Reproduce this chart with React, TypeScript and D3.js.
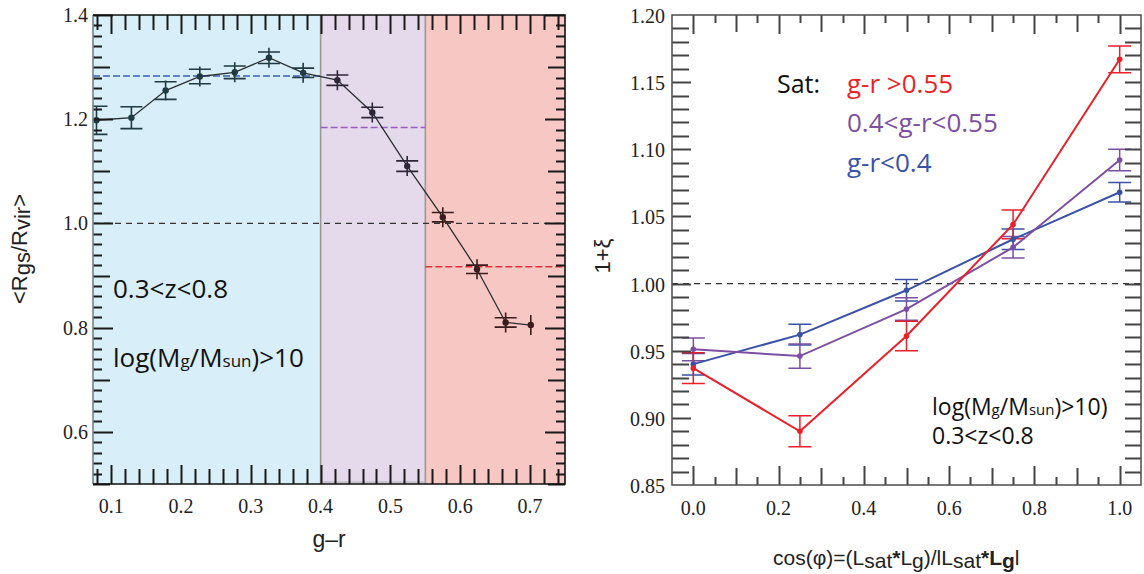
import React from 'react';
import * as d3 from 'd3';

// ---------- Left panel data ----------
const grBins = [0.079, 0.129, 0.178, 0.227, 0.277, 0.326, 0.375, 0.424, 0.474, 0.524, 0.575, 0.624, 0.665, 0.701];
const ratioMean = [1.198, 1.203, 1.255, 1.282, 1.290, 1.318, 1.289, 1.275, 1.213, 1.110, 1.012, 0.912, 0.810, 0.805];
const ratioErr = [0.027, 0.021, 0.017, 0.014, 0.012, 0.011, 0.009, 0.010, 0.010, 0.010, 0.009, 0.008, 0.009, 0.019];
const ratioCapped = [true, true, true, true, true, true, true, true, true, true, true, true, true, false];
const regionEdges = [0.074, 0.4, 0.55, 0.75];
const regionFill = ['#d8eef8', '#e5daec', '#f7c7c4'];
const regionInk = ['#1f3a40', '#2e2638', '#3a1c1c'];
const regionMean = [1.283, 1.184, 0.917];
const regionLine = ['#3a5fb5', '#9a5cc0', '#e0303a'];
const leftXTicks = [0.1, 0.2, 0.3, 0.4, 0.5, 0.6, 0.7];
const leftYTicks = [0.6, 0.8, 1.0, 1.2, 1.4];

// ---------- Right panel data ----------
const cosPhi = [0, 0.25, 0.5, 0.75, 1.0];
const satRed = [0.937, 0.890, 0.961, 1.044, 1.167];
const satRedErr = [0.0115, 0.0115, 0.011, 0.0107, 0.010];
const satPurple = [0.951, 0.946, 0.981, 1.027, 1.092];
const satPurpleErr = [0.0085, 0.009, 0.0084, 0.008, 0.008];
const satBlue = [0.940, 0.962, 0.995, 1.033, 1.068];
const satBlueErr = [0.008, 0.0077, 0.008, 0.0077, 0.0073];
const rightXTicks = [0.0, 0.2, 0.4, 0.6, 0.8, 1.0];
const rightYTicks = [0.85, 0.90, 0.95, 1.00, 1.05, 1.10, 1.15, 1.20];

const SERIF = '"Liberation Serif", "Times New Roman", serif';
const SANS = '"Liberation Sans", Arial, sans-serif';
const OPEN = '"Open Sans", "Noto Sans", sans-serif';

function isMult(v: number, step: number) {
  const q = v / step;
  return Math.abs(q - Math.round(q)) < 1e-6;
}

function LeftPanel() {
  const L = 93, R = 565, T = 15, B = 484;
  const x = d3.scaleLinear().domain([0.074, 0.75]).range([L, R]);
  const y = d3.scaleLinear().domain([0.5, 1.4]).range([B, T]);
  const xt = d3.range(4, 38).map((i) => i * 0.02);
  const yt = d3.range(25, 71).map((i) => i * 0.02);
  const line = d3.line<number>().x((_, i) => x(grBins[i])).y((d) => y(d));
  const fmt = d3.format('.1f');
  const inkFor = (g: number) => (g < regionEdges[1] ? regionInk[0] : g < regionEdges[2] ? regionInk[1] : regionInk[2]);

  let dTicks = '';
  xt.forEach((v) => {
    const len = isMult(v, 0.1) ? 19 : 15;
    const px = Math.round(x(v)) + 0.5;
    dTicks += `M${px},${B}V${B - len}M${px},${T}V${T + len}`;
  });
  yt.forEach((v) => {
    const len = isMult(v, 0.2) ? 20 : isMult(v, 0.1) ? 17 : 9;
    const py = Math.round(y(v)) + 0.5;
    dTicks += `M${L},${py}H${L + len}M${R},${py}H${R - len}`;
  });

  return (
    <g>
      {regionFill.map((c, i) => (
        <rect key={'r' + i} x={x(regionEdges[i])} y={T} width={x(regionEdges[i + 1]) - x(regionEdges[i])} height={B - T} fill={c} />
      ))}
      {[regionEdges[1], regionEdges[2]].map((e, i) => (
        <line key={'s' + i} x1={x(e)} x2={x(e)} y1={T} y2={B} stroke="#999" strokeWidth={1.6} />
      ))}
      <line x1={x(regionEdges[1])} x2={x(regionEdges[2])} y1={B - 2} y2={B - 2} stroke="#aaa" strokeWidth={1} />
      {/* mean lines */}
      <line x1={L} x2={R} y1={y(1)} y2={y(1)} stroke="#333" strokeWidth={1.2} strokeDasharray="6,5" />
      {regionMean.map((m, i) => (
        <line key={'m' + i} x1={x(regionEdges[i])} x2={x(regionEdges[i + 1])} y1={y(m)} y2={y(m)} stroke={regionLine[i]} strokeWidth={1.5} strokeDasharray="7,3" />
      ))}
      {/* data */}
      <path d={line(ratioMean) || ''} fill="none" stroke="#2a2e31" strokeWidth={1.3} />
      {ratioMean.map((v, i) => {
        const cx = x(grBins[i]);
        const cy = y(v);
        const cap = y(v - ratioErr[i]) - cy;
        const bar = Math.max(cap, 10);
        const ink = inkFor(grBins[i]);
        let d = `M${cx},${cy - bar}V${cy + bar}`;
        if (ratioCapped[i]) {
          const xl = Math.max(cx - 11, L);
          d += `M${xl},${cy - cap}H${cx + 11}M${xl},${cy + cap}H${cx + 11}`;
        }
        return (
          <g key={'p' + i}>
            <path d={d} stroke={ink} strokeWidth={1.6} fill="none" />
            <circle cx={cx} cy={cy} r={3.2} fill={ink} />
          </g>
        );
      })}
      {/* ticks */}
      <path d={dTicks} stroke="#1a1a1a" strokeWidth={2} fill="none" />
      {/* frame */}
      <line x1={L} x2={L} y1={T} y2={B} stroke="#6f848b" strokeWidth={1.6} />
      <path d={`M${L},${T}H${R}V${B}H${L}`} fill="none" stroke="#111" strokeWidth={1.6} />
      {/* tick labels */}
      {leftXTicks.map((v) => (
        <text key={'xl' + v} x={x(v)} y={513} textAnchor="middle" fontFamily={SERIF} fontSize={20} fill="#222">{fmt(v)}</text>
      ))}
      {leftYTicks.map((v) => (
        <text key={'yl' + v} x={88} y={y(v)} dy="0.35em" textAnchor="end" fontFamily={SERIF} fontSize={20} fill="#222">{fmt(v)}</text>
      ))}
      {/* labels */}
      <text x={329} y={547} textAnchor="middle" fontFamily={SANS} fontSize={23} fill="#222">g–r</text>
      <text transform="translate(27,249) rotate(-90)" textAnchor="middle" fontFamily={SANS} fontSize={22} fill="#222">
        &lt;R<tspan dy={3}>gs</tspan><tspan dy={-3}>/R</tspan><tspan dy={3}>vir</tspan><tspan dy={-3}>&gt;</tspan>
      </text>
      <text x={113} y={297.5} fontFamily={OPEN} fontSize={26} fill="#111">0.3&lt;z&lt;0.8</text>
      <text x={113} y={367} fontFamily={OPEN} fontSize={26} fill="#111">
        log(M<tspan fontSize={17}>g</tspan>/M<tspan fontSize={17}>sun</tspan>)&gt;10
      </text>
    </g>
  );
}

function RightPanel() {
  const L = 672, R = 1141, T = 15, B = 485;
  const x = d3.scaleLinear().domain([-0.05, 1.05]).range([L, R]);
  const y = d3.scaleLinear().domain([0.85, 1.2]).range([B, T]);
  const xt = d3.range(0, 21).map((i) => i * 0.05);
  const yt = d3.range(86, 120).map((i) => i * 0.01);
  const line = d3.line<number>().x((_, i) => x(cosPhi[i])).y((d) => y(d));
  const series = [
    { v: satBlue, e: satBlueErr, c: '#3a52a6' },
    { v: satPurple, e: satPurpleErr, c: '#7c4fa3' },
    { v: satRed, e: satRedErr, c: '#ea1f29' },
  ];

  let dTicks = '';
  xt.forEach((v) => {
    const len = isMult(v, 0.2) ? 19 : isMult(v, 0.1) ? 17 : 8;
    const px = Math.round(x(v)) + 0.5;
    dTicks += `M${px},${B}V${B - len}M${px},${T}V${T + len}`;
  });
  yt.forEach((v) => {
    const len = isMult(v, 0.05) ? 19 : 17;
    const py = Math.round(y(v)) + 0.5;
    dTicks += `M${L},${py}H${L + len}M${R},${py}H${R - 16}`;
  });

  return (
    <g>
      <line x1={L} x2={R} y1={y(1)} y2={y(1)} stroke="#333" strokeWidth={1.2} strokeDasharray="6,5" />
      {series.map((s, k) => (
        <g key={'e' + k}>
          {s.v.map((v, i) => {
            const cx = x(cosPhi[i]);
            const y1 = y(v + s.e[i]);
            const y2 = y(v - s.e[i]);
            const d = `M${cx},${y1}V${y2}M${cx - 11.5},${y1}H${cx + 11.5}M${cx - 11.5},${y2}H${cx + 11.5}`;
            return <path key={'eb' + i} d={d} stroke={s.c} strokeWidth={1.5} fill="none" />;
          })}
        </g>
      ))}
      {series.map((s, k) => (
        <g key={'l' + k}>
          <path d={line(s.v) || ''} fill="none" stroke={s.c} strokeWidth={2} />
          {s.v.map((v, i) => (
            <circle key={'c' + i} cx={x(cosPhi[i])} cy={y(v)} r={2.8} fill={s.c} />
          ))}
        </g>
      ))}
      <path d={dTicks} stroke="#444" strokeWidth={2} fill="none" />
      <rect x={L} y={T} width={R - L} height={B - T} fill="none" stroke="#555" strokeWidth={1.6} />
      {rightXTicks.map((v) => (
        <text key={'xl' + v} x={x(v)} y={515} textAnchor="middle" fontFamily={SERIF} fontSize={20} fill="#222">{d3.format('.1f')(v)}</text>
      ))}
      {rightYTicks.map((v) => (
        <text key={'yl' + v} x={665} y={y(v)} dy="0.4em" textAnchor="end" fontFamily={SERIF} fontSize={20} fill="#222">{d3.format('.2f')(v)}</text>
      ))}
      <text transform="translate(610,256) rotate(-90)" textAnchor="middle" fontFamily={SANS} fontSize={22} fill="#222">1+ξ</text>
      <text x={773} y={565} fontFamily={SANS} fontSize={21} fill="#222">
        cos(φ)=(L<tspan dy={3}>sat</tspan><tspan dy={-3} fontWeight="bold">*</tspan>L<tspan dy={3}>g</tspan><tspan dy={-3}>)/lL</tspan><tspan dy={3}>sat</tspan><tspan dy={-3} fontWeight="bold">*L</tspan><tspan dy={3} fontWeight="bold">g</tspan><tspan dy={-3}>l</tspan>
      </text>
      <text x={777} y={93} fontFamily={OPEN} fontSize={25} fill="#111">Sat:</text>
      <text x={847} y={93} fontFamily={OPEN} fontSize={26} fill="#ea1f29">g-r &gt;0.55</text>
      <text x={847} y={132} fontFamily={OPEN} fontSize={26} fill="#7c4fa3">0.4&lt;g-r&lt;0.55</text>
      <text x={847} y={172} fontFamily={OPEN} fontSize={26} fill="#3a52a6">g-r&lt;0.4</text>
      <text x={932} y={415} fontFamily={OPEN} fontSize={23} fill="#111">
        log(M<tspan fontSize={15}>g</tspan>/M<tspan fontSize={15}>sun</tspan>)&gt;10)
      </text>
      <text x={932} y={444} fontFamily={OPEN} fontSize={23} fill="#111">0.3&lt;z&lt;0.8</text>
    </g>
  );
}

export default function App() {
  return (
    <svg width={1144} height={574} viewBox="0 0 1144 574" style={{ position: 'absolute', left: 0, top: 0, background: '#fff' }}>
      <rect width={1144} height={574} fill="#fff" />
      <LeftPanel />
      <RightPanel />
    </svg>
  );
}
